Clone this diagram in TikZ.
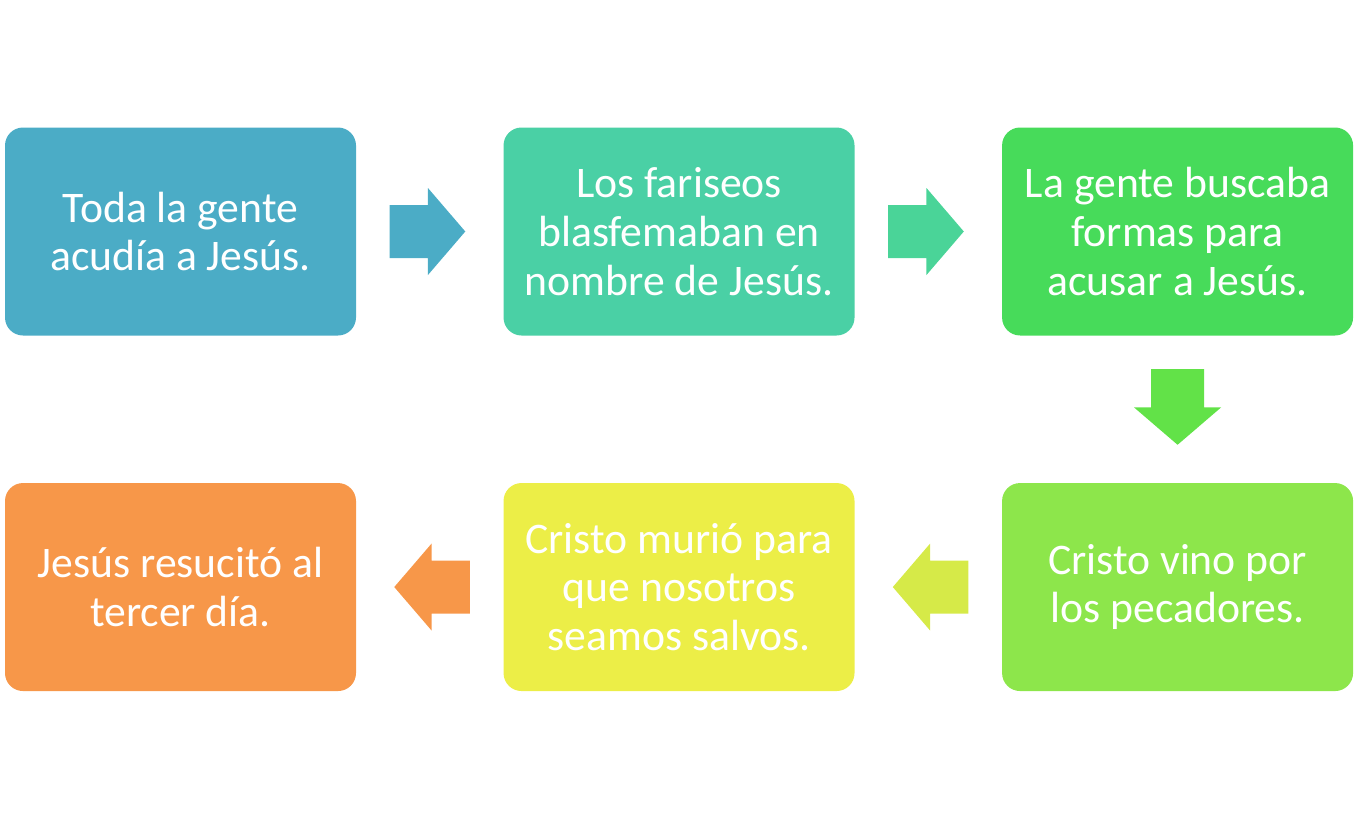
\documentclass[tikz,border=0pt]{standalone}
\usepackage{fontspec}
\setmainfont{Carlito}
\usetikzlibrary{calc,positioning}
\definecolor{stepBlue}{RGB}{75,172,198}
\definecolor{stepAqua}{RGB}{74,208,165}
\definecolor{stepAquaArr}{RGB}{74,212,152}
\definecolor{stepGreen}{RGB}{71,219,90}
\definecolor{stepGreenArr}{RGB}{98,226,72}
\definecolor{stepLime}{RGB}{141,230,75}
\definecolor{stepLimeArr}{RGB}{214,234,72}
\definecolor{stepYellow}{RGB}{236,238,71}
\definecolor{stepOrange}{RGB}{247,151,73}

\begin{document}
\begin{tikzpicture}[
  x=0.75pt, y=-0.75pt,
  stepbox/.style={rectangle, rounded corners=13.5pt, fill=#1, inner sep=0pt,
                  minimum width=263.25pt, minimum height=156pt,
                  text=white, align=center, font=\fontsize{32.75}{36.5}\selectfont},
  node distance=110.25pt and 110.25pt,
]

\def\gapin{25pt}    % free space behind the tail
\def\gapout{28.5pt} % free space in front of the tip
\def\headlen{28pt}  % arrow head length
\def\shaft{19.875pt}% half shaft width
\def\head{32.625pt} % half head width

% ─── helper macro: block arrow between two box anchors ──────────
% #1=from anchor, #2=to anchor, #3=fill colour
\newcommand{\blockarrow}[3]{%
  \coordinate (ta) at ($(#1)!\gapin!(#2)$);
  \coordinate (tp) at ($(#2)!\gapout!(#1)$);
  \coordinate (hb) at ($(tp)!\headlen!(#1)$);
  \fill[#3] ($(ta)!\shaft!90:(#2)$) -- ($(hb)!\shaft!90:(#2)$)
        -- ($(hb)!\head!90:(#2)$) -- (tp) -- ($(hb)!\head!-90:(#2)$)
        -- ($(hb)!\shaft!-90:(#2)$) -- ($(ta)!\shaft!-90:(#2)$) -- cycle;
}

% ─── frame ─────────────────────────────────────────────────────
\useasboundingbox (0,0) rectangle (1367,818);

% ─── top row ───────────────────────────────────────────────────
\node[stepbox=stepBlue] (gente) at (180.5,231.5)
    {Toda la gente\\acudía a Jesús.};
\node[stepbox=stepAqua, right=of gente] (fariseos)
    {Los fariseos\\blasfemaban en\\nombre de Jesús.};
\node[stepbox=stepGreen, right=of fariseos] (acusar)
    {La gente buscaba\\formas para\\acusar a Jesús.};

% ─── bottom row (read right to left) ───────────────────────────
\node[stepbox=stepLime, below=of acusar] (pecadores)
    {Cristo vino por\\los pecadores.};
\node[stepbox=stepYellow, left=of pecadores] (salvos)
    {Cristo murió para\\que nosotros\\seamos salvos.};
\node[stepbox=stepOrange, left=of salvos] (resucito)
    {Jesús resucitó al\\tercer día.};

% ─── block arrows ──────────────────────────────────────────────
\blockarrow{gente.east}{fariseos.west}{stepBlue}
\blockarrow{fariseos.east}{acusar.west}{stepAquaArr}
\blockarrow{acusar.south}{pecadores.north}{stepGreenArr}
\blockarrow{pecadores.west}{salvos.east}{stepLimeArr}
\blockarrow{salvos.west}{resucito.east}{stepOrange}

\end{tikzpicture}
\end{document}
